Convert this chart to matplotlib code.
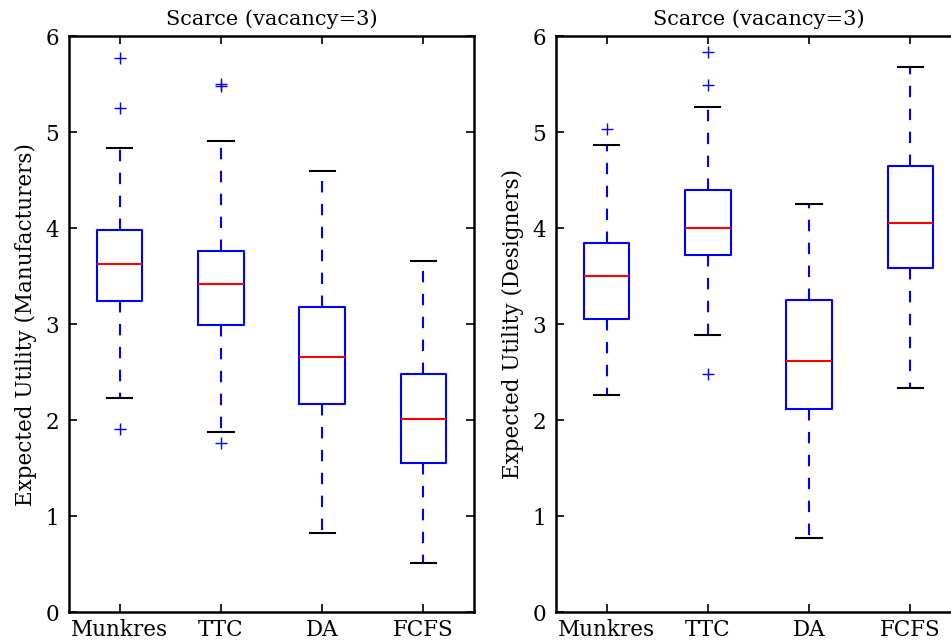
import matplotlib
matplotlib.use("Agg")
import matplotlib.pyplot as plt

plt.rcParams['font.family'] = ['DejaVu Serif']

methods = ["Munkres", "TTC", "DA", "FCFS"]

# left panel: manufacturers
man_whislo = [2.23, 1.88, 0.82, 0.51]
man_q1 = [3.24, 2.99, 2.17, 1.55]
man_med = [3.62, 3.42, 2.66, 2.01]
man_q3 = [3.98, 3.76, 3.18, 2.48]
man_whishi = [4.83, 4.91, 4.59, 3.66]
man_fliers = [[5.77, 5.25, 1.91], [5.50, 5.48, 1.76], [], []]

# right panel: designers
des_whislo = [2.26, 2.89, 0.77, 2.33]
des_q1 = [3.05, 3.72, 2.11, 3.58]
des_med = [3.50, 4.00, 2.61, 4.05]
des_q3 = [3.84, 4.40, 3.25, 4.65]
des_whishi = [4.86, 5.26, 4.25, 5.68]
des_fliers = [[5.03], [5.83, 5.49, 2.48], [], []]


def make_stats(lo, q1, med, q3, hi, fl):
    return [dict(whislo=lo[i], q1=q1[i], med=med[i], q3=q3[i], whishi=hi[i],
                 fliers=fl[i], label=methods[i]) for i in range(len(methods))]


fig = plt.figure(figsize=(9.51, 6.43), dpi=100)
ax1 = fig.add_axes([0.0726, 0.0482, 0.4259, 0.8958])
ax2 = fig.add_axes([0.5846, 0.0482, 0.4259, 0.8958])

panels = [
    (ax1, make_stats(man_whislo, man_q1, man_med, man_q3, man_whishi, man_fliers),
     "Expected Utility (Manufacturers)"),
    (ax2, make_stats(des_whislo, des_q1, des_med, des_q3, des_whishi, des_fliers),
     "Expected Utility (Designers)"),
]

for ax, stats, ylab in panels:
    ax.bxp(stats, widths=0.45, capwidths=0.25,
           boxprops=dict(color='blue', linewidth=1.5),
           medianprops=dict(color='red', linewidth=1.5),
           whiskerprops=dict(color='blue', linewidth=1.5, linestyle=(0, (5.5, 5.5))),
           capprops=dict(color='black', linewidth=1.5),
           flierprops=dict(marker='+', markeredgecolor='blue', markersize=9,
                           linestyle='none'))
    ax.set_xlim(0.5, 4.5)
    ax.set_ylim(0, 6)
    ax.set_yticks(range(0, 7))
    ax.set_title("Scarce (vacancy=3)", fontsize=15, pad=8)
    ax.set_ylabel(ylab, fontsize=15.5, labelpad=6)
    ax.tick_params(direction='in', top=True, right=True, labelsize=15.5,
                   length=6, width=1.2)
    ax.tick_params(axis='x', pad=5)
    ax.tick_params(axis='y', pad=7)
    for s in ax.spines.values():
        s.set_linewidth(1.8)

fig.savefig("out.png", dpi=100)
